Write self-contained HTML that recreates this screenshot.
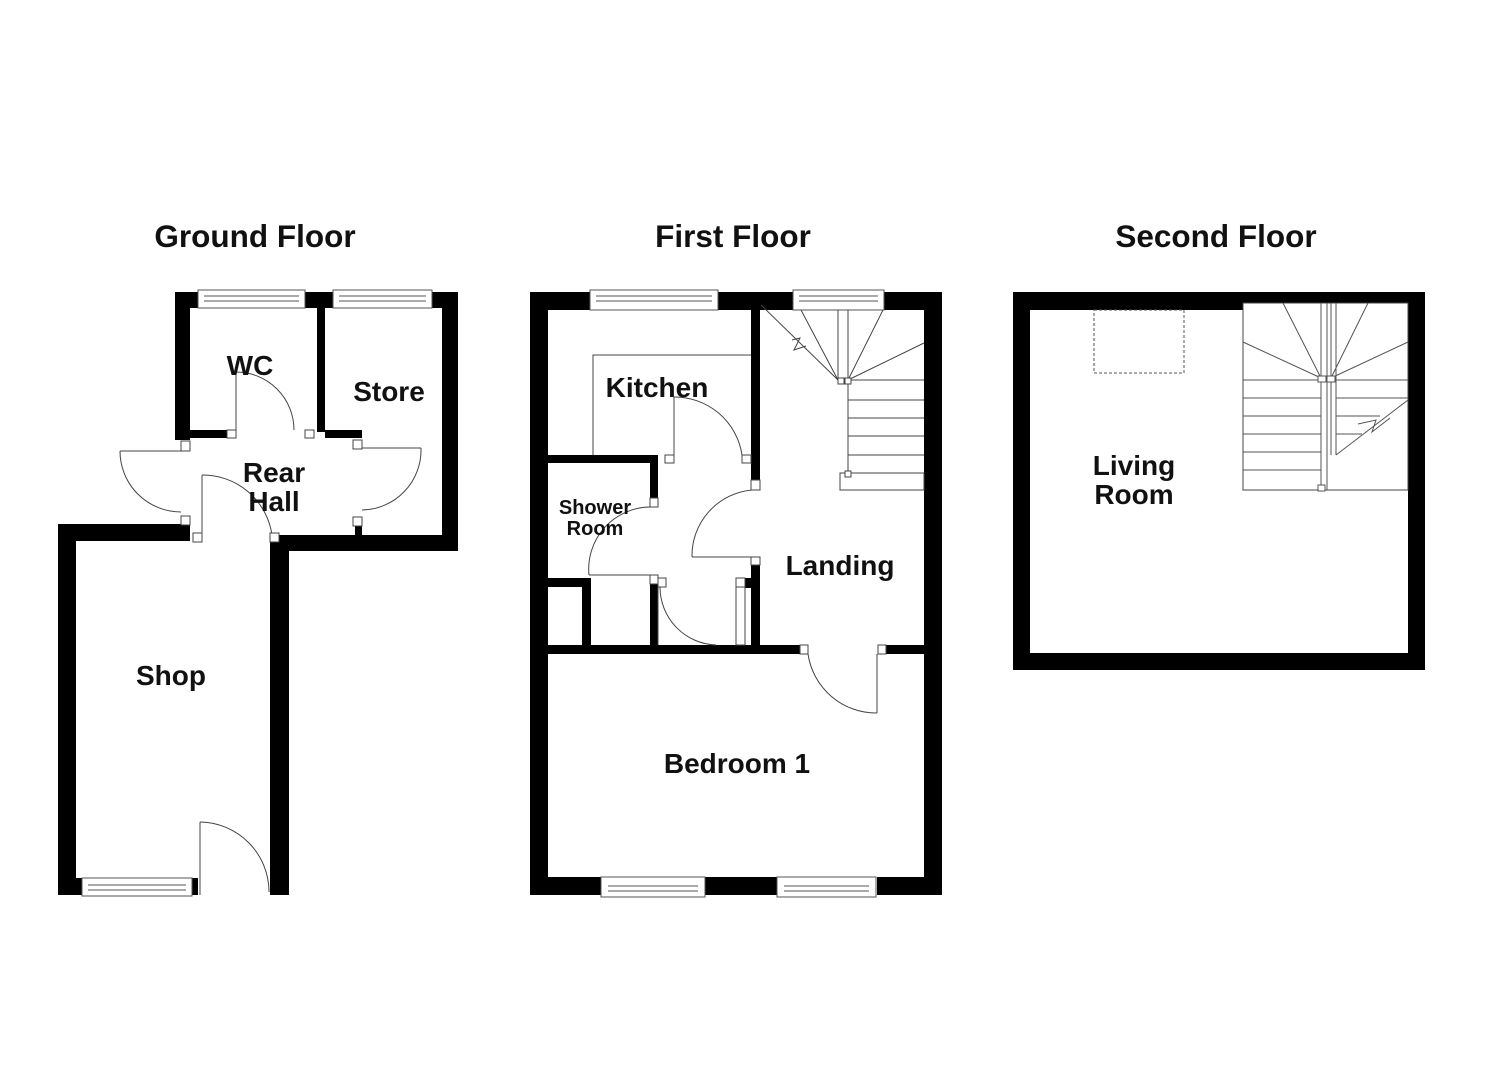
<!DOCTYPE html>
<html><head><meta charset="utf-8"><style>
html,body{margin:0;padding:0;background:#fff;}
svg{display:block}
text{font-family:"Liberation Sans",Arial,sans-serif;font-weight:bold;fill:#111;}
</style></head><body>
<svg width="1485" height="1080" viewBox="0 0 1485 1080" xmlns="http://www.w3.org/2000/svg">
<g font-size="31.5" text-anchor="middle">
<text x="255" y="247">Ground Floor</text>
<text x="733" y="247">First Floor</text>
<text x="1216" y="247">Second Floor</text>
</g>

<!-- ================= GROUND FLOOR ================= -->
<g fill="#000">
<rect x="175" y="292" width="23" height="16"/>
<rect x="305" y="292" width="28" height="16"/>
<rect x="432" y="292" width="26" height="16"/>
<rect x="175" y="292" width="15" height="148"/>
<rect x="317" y="308" width="8" height="124"/>
<rect x="442" y="292" width="16" height="259"/>
<rect x="190" y="430" width="37" height="8"/>
<rect x="325" y="430" width="37" height="8"/>
<rect x="58" y="524" width="132" height="17"/>
<rect x="58" y="524" width="18" height="371"/>
<rect x="270" y="535" width="19" height="360"/>
<rect x="270" y="535" width="188" height="16"/>
<rect x="355" y="526" width="7" height="10"/>
<rect x="58" y="878" width="24" height="17"/>
<rect x="192" y="878" width="6" height="17"/>
</g>
<g fill="#fff" stroke="#555" stroke-width="1">
<rect x="198" y="290" width="107" height="18"/><line x1="204" y1="296" x2="299" y2="296"/><line x1="204" y1="301" x2="299" y2="301"/>
<rect x="333" y="290" width="99" height="18"/><line x1="339" y1="296" x2="426" y2="296"/><line x1="339" y1="301" x2="426" y2="301"/>
<rect x="82" y="878" width="110" height="18"/><line x1="88" y1="885" x2="186" y2="885"/><line x1="88" y1="890" x2="186" y2="890"/>
</g>
<g fill="none" stroke="#444" stroke-width="1">
<line x1="236" y1="372" x2="236" y2="430"/><path d="M236,372 A58,58 0 0 1 294,430"/>
<rect x="227" y="430" width="9" height="8" fill="#fff"/><rect x="305" y="430" width="9" height="8" fill="#fff"/>
<line x1="120" y1="451" x2="181" y2="451"/><path d="M120,451 A61,61 0 0 0 181,512"/>
<rect x="181" y="441" width="9" height="10" fill="#fff"/><rect x="181" y="516" width="9" height="9" fill="#fff"/>
<line x1="362" y1="448" x2="421" y2="448"/><path d="M421,448 A60,60 0 0 1 362,510"/>
<rect x="353" y="440" width="9" height="9" fill="#fff"/><rect x="353" y="517" width="9" height="9" fill="#fff"/>
<line x1="202" y1="475" x2="202" y2="535"/><path d="M202,475 A70,70 0 0 1 272,535"/>
<rect x="193" y="533" width="9" height="9" fill="#fff"/><rect x="270" y="533" width="9" height="9" fill="#fff"/>
<line x1="200" y1="822" x2="200" y2="895"/><path d="M200,822 A70,70 0 0 1 269,892"/>
</g>
<g font-size="28" text-anchor="middle">
<text x="250" y="375">WC</text>
<text x="389" y="401">Store</text>
<text x="274" y="482">Rear</text>
<text x="274" y="511">Hall</text>
<text x="171" y="685">Shop</text>
</g>

<!-- ================= FIRST FLOOR ================= -->
<g fill="#000">
<rect x="530" y="292" width="60" height="18"/>
<rect x="718" y="292" width="75" height="18"/>
<rect x="884" y="292" width="58" height="18"/>
<rect x="530" y="292" width="18" height="603"/>
<rect x="924" y="292" width="18" height="603"/>
<rect x="530" y="877" width="71" height="18"/>
<rect x="705" y="877" width="72" height="18"/>
<rect x="877" y="877" width="65" height="18"/>
<rect x="751" y="310" width="9" height="170"/>
<rect x="548" y="455" width="103" height="8"/>
<rect x="650" y="455" width="8" height="43"/>
<rect x="548" y="578" width="43" height="9"/>
<rect x="582" y="578" width="9" height="69"/>
<rect x="650" y="583" width="8" height="64"/>
<rect x="751" y="565" width="9" height="82"/>
<rect x="745" y="578" width="6" height="10"/>
<rect x="548" y="645" width="252" height="9"/>
<rect x="886" y="645" width="38" height="9"/>
</g>
<g fill="#fff" stroke="#555" stroke-width="1">
<rect x="590" y="290" width="128" height="20"/><line x1="596" y1="296" x2="712" y2="296"/><line x1="596" y1="301" x2="712" y2="301"/>
<rect x="793" y="290" width="91" height="20"/><line x1="799" y1="296" x2="878" y2="296"/><line x1="799" y1="301" x2="878" y2="301"/>
<rect x="601" y="877" width="104" height="20"/><line x1="608" y1="886" x2="698" y2="886"/><line x1="608" y1="891" x2="698" y2="891"/>
<rect x="777" y="877" width="99" height="20"/><line x1="784" y1="886" x2="869" y2="886"/><line x1="784" y1="891" x2="869" y2="891"/>
</g>
<g fill="none" stroke="#444" stroke-width="1">
<polyline points="593,455 593,355 751,355"/>
<line x1="674" y1="397" x2="674" y2="455"/><path d="M674,397 A68,68 0 0 1 742,455"/>
<rect x="665" y="455" width="9" height="8" fill="#fff"/><rect x="742" y="455" width="9" height="8" fill="#fff"/>
<line x1="692" y1="557" x2="760" y2="557"/><path d="M752,490 A66,66 0 0 0 692,557"/>
<rect x="751" y="480" width="9" height="10" fill="#fff"/><rect x="751" y="557" width="9" height="8" fill="#fff"/>
<line x1="589" y1="575" x2="650" y2="575"/><path d="M650,507 A62,62 0 0 0 589,575"/>
<rect x="650" y="498" width="8" height="9" fill="#fff"/><rect x="650" y="575" width="8" height="9" fill="#fff"/>
<line x1="658" y1="587" x2="658" y2="645"/><path d="M660,587 A58,58 0 0 0 716,645"/>
<rect x="658" y="578" width="8" height="9" fill="#fff"/>
<rect x="736" y="583" width="9" height="62"/><rect x="736" y="578" width="9" height="9" fill="#fff"/>
<line x1="877" y1="654" x2="877" y2="713"/><path d="M808,654 A69,69 0 0 0 877,713"/>
<rect x="800" y="645" width="8" height="9" fill="#fff"/><rect x="878" y="645" width="8" height="9" fill="#fff"/>
<line x1="761" y1="305" x2="838" y2="380"/>
<line x1="801" y1="310" x2="838" y2="380"/>
<line x1="838" y1="310" x2="838" y2="380"/>
<line x1="848" y1="310" x2="848" y2="475"/>
<line x1="883" y1="310" x2="848" y2="380"/>
<line x1="924" y1="343" x2="848" y2="380"/>
<line x1="848" y1="380" x2="924" y2="380"/>
<line x1="848" y1="400" x2="924" y2="400"/>
<line x1="848" y1="418" x2="924" y2="418"/>
<line x1="848" y1="436" x2="924" y2="436"/>
<line x1="848" y1="455" x2="924" y2="455"/>
<line x1="848" y1="473" x2="924" y2="473"/>
<rect x="840" y="473" width="84" height="17"/>
<rect x="838" y="378" width="6" height="6" fill="#fff"/><rect x="845" y="378" width="6" height="6" fill="#fff"/><rect x="845" y="471" width="6" height="6" fill="#fff"/>
<polyline points="792,340 800,338 794,350 806,346"/>
</g>
<g font-size="28" text-anchor="middle">
<text x="657" y="397">Kitchen</text>
<text x="840" y="575">Landing</text>
<text x="737" y="773">Bedroom 1</text>
</g>
<g font-size="20" text-anchor="middle">
<text x="595" y="514">Shower</text>
<text x="595" y="535">Room</text>
</g>

<!-- ================= SECOND FLOOR ================= -->
<g fill="#000">
<rect x="1013" y="292" width="412" height="11"/>
<rect x="1013" y="292" width="230" height="18"/>
<rect x="1013" y="292" width="17" height="378"/>
<rect x="1408" y="292" width="17" height="378"/>
<rect x="1013" y="653" width="412" height="17"/>
</g>
<g fill="none" stroke="#555" stroke-width="1">
<rect x="1094" y="310" width="90" height="63" stroke-dasharray="3,2"/>
<rect x="1243" y="303" width="165" height="187" stroke="#444"/>
<line x1="1321" y1="303" x2="1321" y2="490"/><line x1="1327" y1="303" x2="1327" y2="490"/>
<line x1="1331" y1="303" x2="1331" y2="455"/><line x1="1336" y1="303" x2="1336" y2="455"/>
<line x1="1283" y1="303" x2="1321" y2="378"/>
<line x1="1243" y1="342" x2="1321" y2="378"/>
<line x1="1368" y1="303" x2="1331" y2="378"/>
<line x1="1408" y1="342" x2="1331" y2="378"/>
<line x1="1243" y1="380" x2="1408" y2="380"/>
<line x1="1243" y1="398" x2="1321" y2="398"/>
<line x1="1336" y1="398" x2="1408" y2="398"/>
<line x1="1243" y1="416" x2="1321" y2="416"/>
<line x1="1336" y1="416" x2="1380" y2="416"/>
<line x1="1243" y1="434" x2="1321" y2="434"/>
<line x1="1336" y1="434" x2="1362" y2="434"/>
<line x1="1243" y1="452" x2="1321" y2="452"/>
<line x1="1243" y1="470" x2="1321" y2="470"/>
<line x1="1336" y1="455" x2="1408" y2="400"/>
<polyline points="1358,424 1376,420 1372,432 1390,418"/>
<rect x="1318" y="376" width="8" height="6" fill="#fff"/><rect x="1327" y="376" width="8" height="6" fill="#fff"/><rect x="1318" y="485" width="7" height="6" fill="#fff"/>
</g>
<g font-size="28" text-anchor="middle">
<text x="1134" y="475">Living</text>
<text x="1134" y="504">Room</text>
</g>
</svg>
</body></html>
